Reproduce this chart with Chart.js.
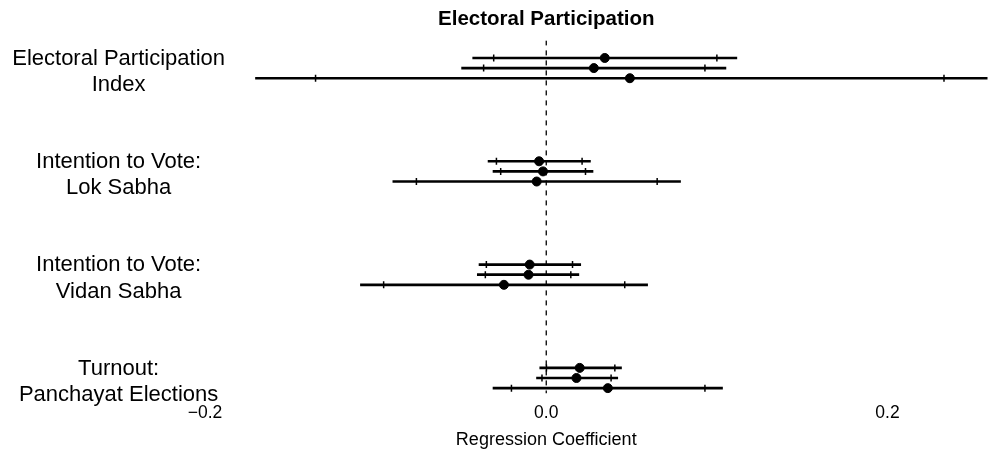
<!DOCTYPE html>
<html>
<head>
<meta charset="utf-8">
<script src="https://cdn.jsdelivr.net/npm/chart.js@4.4.1/dist/chart.umd.min.js"></script>
<style>
  html, body { margin: 0; padding: 0; background: #ffffff; }
  #wrap { width: 993px; height: 458px; }
</style>
</head>
<body>
<div id="wrap"><canvas id="coefPlot"></canvas></div>
<script>
// Outcomes, top to bottom
const outcomes = [
    ['Electoral Participation', 'Index'],
    ['Intention to Vote:', 'Lok Sabha'],
    ['Intention to Vote:', 'Vidan Sabha'],
    ['Turnout:', 'Panchayat Elections']
];

// Three specifications per outcome (top row first)
const estimates = [
    [0.0343, 0.0279, 0.0490],
    [-0.0042, -0.0019, -0.0056],
    [-0.0097, -0.0104, -0.0248],
    [0.0196, 0.0177, 0.0361]
];
const ci95Low = [
    [-0.0431, -0.0496, -0.1704],
    [-0.0341, -0.0312, -0.0899],
    [-0.0394, -0.0404, -0.1089],
    [-0.0038, -0.0057, -0.0312]
];
const ci95High = [
    [0.1117, 0.1053, 0.2680],
    [0.0259, 0.0274, 0.0787],
    [0.0202, 0.0191, 0.0594],
    [0.0441, 0.0419, 0.1033]
];
const ci90Low = [
    [-0.0308, -0.0367, -0.1352],
    [-0.0292, -0.0267, -0.0761],
    [-0.0351, -0.0357, -0.0953],
    [0.0001, -0.0025, -0.0204]
];
const ci90High = [
    [0.1000, 0.0930, 0.2331],
    [0.0210, 0.0230, 0.0650],
    [0.0154, 0.0144, 0.0460],
    [0.0402, 0.0380, 0.0930]
];

const xTicks = [-0.2, 0, 0.2];

// layout of rows on the vertical axis
const ROW_STEP = 0.098;
const LABEL_SHIFT = 0.134;
const Y_MIN = -0.17;
const Y_MAX = 3.248;
const X_MIN = -0.2586;
const X_MAX = 0.2586;
const LABEL_AXIS_RIGHT = 247;

const rowY = (g, r) => g + r * ROW_STEP;

const ciBars = [];
const ciTicks = [];
const points = [];
outcomes.forEach((_, g) => {
    estimates[g].forEach((est, r) => {
        const y = rowY(g, r);
        ciBars.push({ x: [ci95Low[g][r], ci95High[g][r]], y: y });
        ciTicks.push({ x: ci90Low[g][r], y: y });
        ciTicks.push({ x: ci90High[g][r], y: y });
        points.push({ x: est, y: y });
    });
});

const fontFamily = '"Liberation Sans", Arial, sans-serif';

// the outcome labels sit inside the plot region, like the original;
// widen the label box of the y axis once the chart area is fixed
const widenLabelAxis = {
    id: 'widenLabelAxis',
    afterLayout(chart) {
        const y = chart.scales.y;
        y.left = 0;
        y.right = LABEL_AXIS_RIGHT;
    }
};

new Chart(document.getElementById('coefPlot'), {
    type: 'scatter',
    data: {
        datasets: [
            {
                label: 'Estimate',
                data: points,
                backgroundColor: '#000000',
                borderColor: '#000000',
                pointRadius: 4.5,
                pointHoverRadius: 4.5,
                order: 0
            },
            {
                label: '90% CI',
                data: ciTicks,
                pointStyle: 'line',
                rotation: 90,
                pointRadius: 3.5,
                pointHoverRadius: 3.5,
                borderColor: '#000000',
                borderWidth: 1.5,
                order: 1
            },
            {
                type: 'bar',
                label: '95% CI',
                data: ciBars,
                indexAxis: 'y',
                barThickness: 2,
                backgroundColor: '#000000',
                borderWidth: 0,
                order: 2
            },
            {
                type: 'line',
                label: 'Zero',
                data: [{ x: 0, y: Y_MIN }, { x: 0, y: Y_MAX }],
                borderColor: '#000000',
                borderWidth: 1.3,
                borderDash: [5, 5],
                pointRadius: 0,
                order: 3
            }
        ]
    },
    options: {
        responsive: true,
        maintainAspectRatio: false,
        animation: false,
        events: [],
        layout: {
            padding: { left: 0, right: 0, top: 0, bottom: 0 }
        },
        plugins: {
            legend: { display: false },
            tooltip: { enabled: false },
            title: {
                display: true,
                text: 'Electoral Participation',
                fullSize: false,
                color: '#000000',
                font: { family: fontFamily, size: 20.5, weight: 'bold' },
                padding: { top: 1, bottom: 8.4 }
            }
        },
        scales: {
            x: {
                type: 'linear',
                min: X_MIN,
                max: X_MAX,
                afterBuildTicks: (scale) => {
                    scale.ticks = xTicks.map(v => ({ value: v }));
                },
                grid: { display: false },
                border: { display: false },
                ticks: {
                    color: '#000000',
                    padding: 1.5,
                    font: { family: fontFamily, size: 17.5 },
                    callback: (v) => (v < 0 ? '\u2212' : '') + Math.abs(v).toFixed(1)
                },
                title: {
                    display: true,
                    text: 'Regression Coefficient',
                    color: '#000000',
                    font: { family: fontFamily, size: 18 },
                    padding: { top: 3.7, bottom: 7.2 }
                }
            },
            y: {
                type: 'linear',
                reverse: true,
                offset: false,
                min: Y_MIN,
                max: Y_MAX,
                afterBuildTicks: (scale) => {
                    scale.ticks = outcomes.map((_, g) => ({ value: g + LABEL_SHIFT }));
                },
                afterFit: (scale) => {
                    scale.width = 105;
                },
                grid: { display: false, offset: false },
                border: { display: false },
                ticks: {
                    autoSkip: false,
                    color: '#000000',
                    crossAlign: 'center',
                    padding: 14,
                    font: { family: fontFamily, size: 22, lineHeight: 1.2 },
                    callback: (v, i) => outcomes[i]
                }
            }
        }
    },
    plugins: [widenLabelAxis]
});
</script>
</body>
</html>
